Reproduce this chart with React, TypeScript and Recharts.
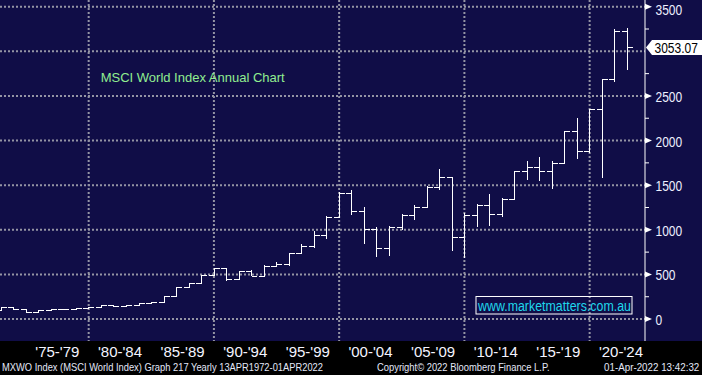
import React from "react";
import { ComposedChart, Bar, XAxis, YAxis, CartesianGrid, ReferenceLine } from "recharts";

// MSCI World Index (MXWO), yearly bars 1972 - Apr 2022
const years = [
  1972, 1973, 1974, 1975, 1976, 1977, 1978, 1979, 1980, 1981, 1982, 1983, 1984, 1985, 1986, 1987, 1988,
  1989, 1990, 1991, 1992, 1993, 1994, 1995, 1996, 1997, 1998, 1999, 2000, 2001, 2002, 2003, 2004, 2005,
  2006, 2007, 2008, 2009, 2010, 2011, 2012, 2013, 2014, 2015, 2016, 2017, 2018, 2019, 2020, 2021, 2022,
];
const opens = [
  103, 131, 108, 75, 97, 108, 108, 120, 131, 153, 142, 153, 176, 187, 254, 355, 400,
  495, 568, 452, 534, 486, 590, 613, 736, 815, 938, 1146, 1416, 1214, 1005, 792, 1028, 1166,
  1252, 1476, 1591, 915, 1162, 1278, 1182, 1341, 1659, 1707, 1655, 1748, 2103, 1879, 2353, 2690, 3231,
];
const highs = [
  133, 134, 110, 99, 110, 110, 122, 133, 156, 156, 155, 178, 190, 256, 360, 408, 497,
  570, 575, 540, 549, 605, 639, 740, 837, 986, 1150, 1418, 1446, 1252, 1028, 1042, 1177, 1278,
  1490, 1681, 1595, 1191, 1289, 1401, 1353, 1661, 1771, 1812, 1771, 2105, 2249, 2356, 2692, 3247, 3258,
];
const lows = [
  101, 104, 72, 74, 96, 104, 106, 119, 127, 138, 132, 152, 170, 186, 252, 352, 398,
  485, 430, 437, 478, 484, 588, 598, 734, 799, 897, 1128, 1166, 840, 698, 706, 997, 1109,
  1250, 1446, 765, 687, 1035, 1046, 1147, 1338, 1558, 1550, 1460, 1745, 1797, 1857, 1584, 2656, 2790,
];
const closes = [
  131, 108, 75, 97, 108, 108, 120, 131, 153, 142, 153, 176, 187, 254, 355, 400, 495,
  568, 452, 534, 486, 590, 613, 736, 815, 938, 1146, 1416, 1214, 1005, 792, 1028, 1166, 1252,
  1476, 1591, 915, 1162, 1278, 1182, 1341, 1659, 1707, 1655, 1748, 2103, 1879, 2353, 2690, 3231, 3053.07,
];

const periodStarts = [1975, 1980, 1985, 1990, 1995, 2000, 2005, 2010, 2015, 2020];
const periodLabels = ["'75-'79", "'80-'84", "'85-'89", "'90-'94", "'95-'99", "'00-'04", "'05-'09", "'10-'14", "'15-'19", "'20-'24"];
const gridYears = [1980, 1990, 2000, 2010, 2020];
const yTicks = [0, 250, 500, 750, 1000, 1250, 1500, 1750, 2000, 2250, 2500, 2750, 3000, 3250, 3500];
const gridValues = [0, 500, 1000, 1500, 2000, 2500, 3000, 3500];

const NAVY = "#100d47";
const FONT = "'Liberation Sans', Arial, sans-serif";

// each yearly bar sits at the end of its year on the time axis
const data = years.map((yr, i) => ({
  year: yr,
  t: yr + 1,
  open: opens[i],
  high: highs[i],
  low: lows[i],
  close: closes[i],
}));
const labelCenters = periodStarts.map((s) => s + 2.5);
const lastClose = closes[closes.length - 1];

function renderOhlc(props: any) {
  const { x, y, width, height, payload } = props;
  const top = Math.min(y, y + height);
  const h = Math.abs(height);
  const cx = Math.round(x + width / 2) + 0.5;
  const span = payload.high - payload.low;
  const k = span > 0 ? h / span : 0;
  const yOpen = Math.round(top + (payload.high - payload.open) * k) + 0.5;
  const yClose = Math.round(top + (payload.high - payload.close) * k) + 0.5;
  return (
    <g stroke="#ffffff" strokeWidth={1} shapeRendering="crispEdges">
      <line x1={cx} x2={cx} y1={top} y2={top + h} />
      <line x1={cx - 6} x2={cx} y1={yOpen} y2={yOpen} />
      <line x1={cx} x2={cx + 5.5} y1={yClose} y2={yClose} />
    </g>
  );
}

function renderYTick(props: any) {
  const { x, y, payload } = props;
  const v = payload.value;
  if (v % 500 !== 0) {
    return <line x1={x} x2={x + 4} y1={y} y2={y} stroke="#ffffff" />;
  }
  // the last-price tag covers the label it sits on
  if (Math.abs(v - lastClose) < 100) return <g />;
  const s = String(v);
  return (
    <g>
      <polygon points={`${x},${y - 3} ${x + 7},${y} ${x},${y + 3}`} fill="#ffffff" />
      <text
        x={x + 10.5}
        y={Math.max(y + 6, 15)}
        fill="#eef0ff"
        fontSize={14}
        fontFamily={FONT}
        textLength={s.length * 6.67}
        lengthAdjust="spacingAndGlyphs"
      >
        {s}
      </text>
    </g>
  );
}

function renderSeparator(props: any) {
  const { x, y } = props;
  return <line x1={x} x2={x} y1={y} y2={y + 17} stroke="#ffffff" />;
}

function renderPeriodLabel(props: any) {
  const { x, y, payload } = props;
  const idx = labelCenters.findIndex((c) => Math.abs(c - payload.value) < 0.01);
  return (
    <text x={x} y={y + 15.7} textAnchor="middle" fill="#f4f4ff" fontSize={15} fontFamily={FONT}>
      {periodLabels[idx]}
    </text>
  );
}

function renderTag(props: any) {
  const vb = props.viewBox;
  const tip = vb.x + vb.width + 1;
  const yc = vb.y + 1;
  const s = lastClose.toFixed(2);
  return (
    <g>
      <polygon
        points={`${tip},${yc} ${tip + 6},${yc - 7.5} ${702},${yc - 7.5} ${702},${yc + 7.5} ${tip + 6},${yc + 7.5}`}
        fill="#ffffff"
      />
      <text
        x={tip + 8.5}
        y={yc + 5}
        fill="#000000"
        fontSize={14}
        fontFamily={FONT}
        textLength={43.4}
        lengthAdjust="spacingAndGlyphs"
      >
        {s}
      </text>
    </g>
  );
}

export default function App() {
  return (
    <div style={{ position: "fixed", left: 0, top: 0, width: 702, height: 375, background: "#000", overflow: "hidden" }}>
      <div style={{ position: "absolute", left: 0, top: 0, width: 702, height: 341, background: NAVY }} />
      <div style={{ position: "absolute", left: 0, top: 0 }}>
        <ComposedChart width={702} height={375} data={data} margin={{ top: 0, right: 0, bottom: 0, left: 0 }}>
          <CartesianGrid
            horizontalValues={gridValues}
            verticalValues={gridYears}
            stroke="#9494a4"
            strokeWidth={2}
            strokeDasharray="2 2"
          />
          <XAxis
            type="number"
            dataKey="t"
            domain={[1972.92, 2024.42]}
            allowDataOverflow
            ticks={periodStarts}
            interval={0}
            height={0}
            tickLine={false}
            tickSize={0}
            tickMargin={0}
            axisLine={{ stroke: "#ffffff" }}
            tick={renderSeparator}
          />
          <XAxis
            xAxisId="lab"
            type="number"
            dataKey="t"
            domain={[1972.92, 2024.42]}
            allowDataOverflow
            ticks={labelCenters}
            interval={0}
            height={34}
            axisLine={false}
            tickLine={false}
            tickSize={0}
            tickMargin={0}
            tick={renderPeriodLabel}
          />
          <YAxis
            orientation="right"
            type="number"
            width={57}
            domain={[-246, 3575]}
            allowDataOverflow
            ticks={yTicks}
            interval={0}
            tickLine={false}
            tickSize={0}
            tickMargin={0}
            axisLine={{ stroke: "#ffffff" }}
            tick={renderYTick}
          />
          <Bar dataKey={(d: any) => [d.low, d.high]} barSize={8} shape={renderOhlc} isAnimationActive={false} />
          <ReferenceLine y={lastClose} stroke="none" label={renderTag} />
        </ComposedChart>
      </div>
      <svg width={702} height={375} style={{ position: "absolute", left: 0, top: 0, pointerEvents: "none" }}>
        <text x={100.7} y={81.7} fill="#90ee90" fontSize={13} fontFamily={FONT}>
          MSCI World Index Annual Chart
        </text>
        <rect x={476} y={296.5} width={156} height={17.5} fill="none" stroke="#ffffff" strokeWidth={1} />
        <text x={478} y={311} fill="#1fd8ec" fontSize={14} fontFamily={FONT} textLength={153} lengthAdjust="spacingAndGlyphs">
          www.marketmatters.com.au
        </text>
        <g fill="#e4e8f8" fontSize={10.5} fontFamily={FONT} style={{ whiteSpace: "pre" }}>
          <text x={2} y={371} textLength={321} lengthAdjust="spacingAndGlyphs">
            MXWO Index (MSCI World Index) Graph 217  Yearly 13APR1972-01APR2022
          </text>
          <text x={377} y={371} textLength={172.6} lengthAdjust="spacingAndGlyphs">
            Copyright© 2022 Bloomberg Finance L.P.
          </text>
          <text x={604} y={371} textLength={95.3} lengthAdjust="spacingAndGlyphs">
            01-Apr-2022 13:42:32
          </text>
        </g>
      </svg>
    </div>
  );
}
